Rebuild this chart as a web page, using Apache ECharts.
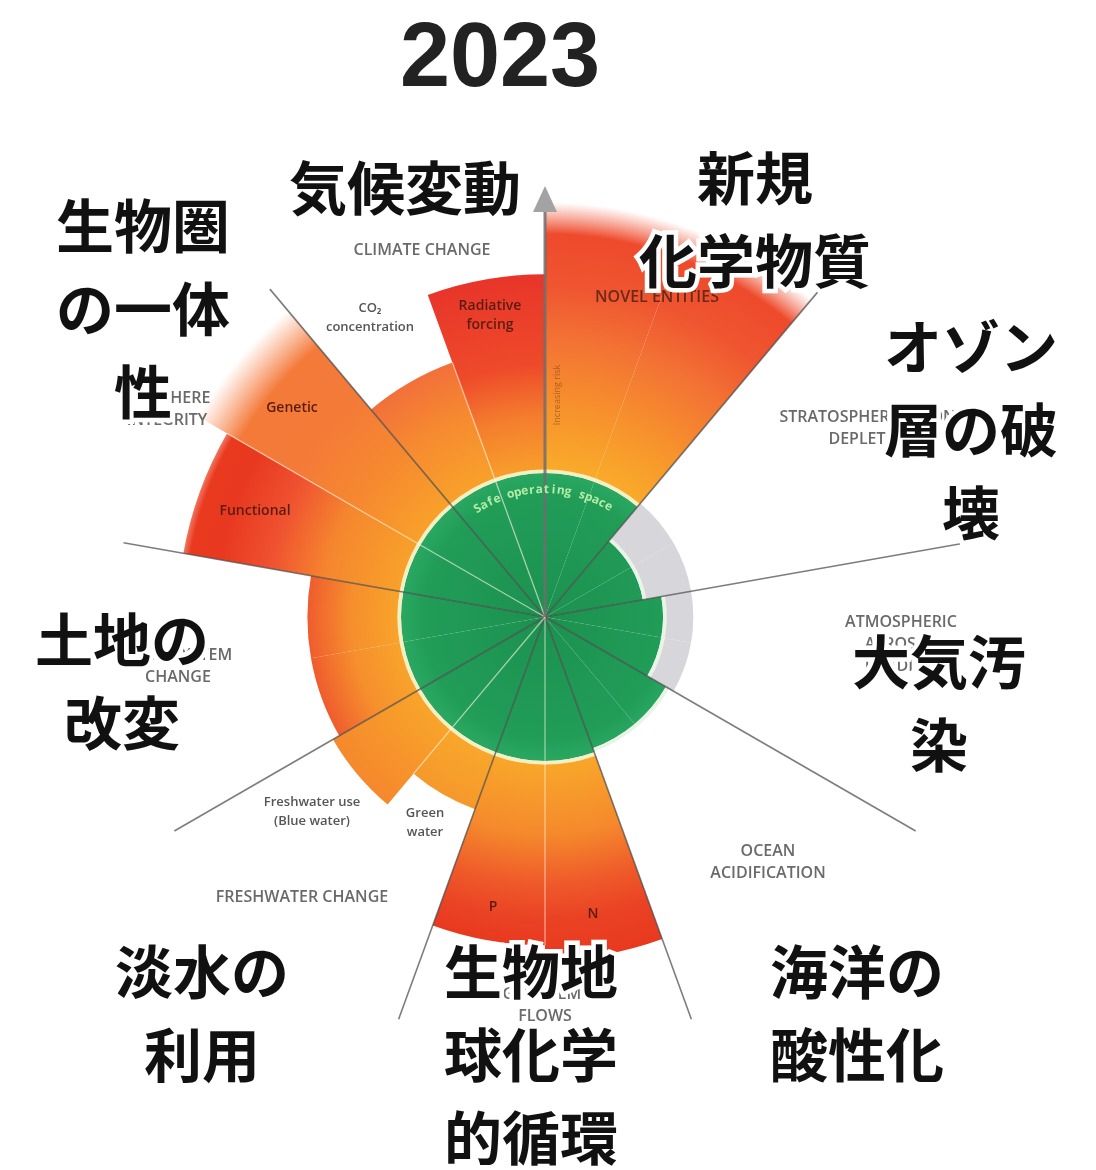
<!DOCTYPE html>
<html><head><meta charset="utf-8">
<script src="https://cdn.jsdelivr.net/npm/echarts@6/dist/echarts.min.js"></script>
<style>html,body{margin:0;padding:0;background:#fff}#c{width:1096px;height:1170px}</style>
</head><body><div id="c"></div>
<script>
// ---- data -------------------------------------------------------------
// 18 slots of 20 degrees, clockwise from 12 o'clock
const slotNames = ['Novel entities a','Novel entities b','Stratospheric ozone a','Stratospheric ozone b',
  'Atmospheric aerosols a','Atmospheric aerosols b','Ocean acidification a','Ocean acidification b',
  'Nitrogen (N)','Phosphorus (P)','Green water','Blue water','Land-system change a','Land-system change b',
  'Functional integrity','Genetic diversity','CO2 concentration','Radiative forcing'];
// control-variable status in units of the planetary boundary (1 = edge of the safe operating space)
const statusValues = [2.88,2.88,0.69,0.69,0.82,0.82,0.97,0.97,2.38,2.28,1.42,1.70,1.65,1.65,2.55,2.78,1.88,2.38];
// grey zone (boundaries not transgressed) outer extent
const greyZone = [0,0,1.03,1.03,1.03,1.03,0,0,0,0,0,0,0,0,0,0,0,0];
const mainDividerAngles = [40,80,120,160,200,240,280,320];
const subDividerAngles = [180,220,300,340];
const safeText = 'Safe operating space';

// ---- style ------------------------------------------------------------
const CX = 545, CY = 617, PX_PER_UNIT = 144, OUTER_PX = 430;
const RMAX = OUTER_PX / PX_PER_UNIT;
const gradStops = {
  novel: [[1.0,'#f9ac2a'],[1.45,'#f7922c'],[1.9,'#f37434'],[2.3,'#ef5530'],[2.66,'#ee4a2c'],[2.88,'rgba(240,90,60,0)']],
  N: [[1.0,'#f8a82a'],[1.5,'#f58a2c'],[1.85,'#ef5a2a'],[2.1,'#ea4224'],[2.38,'#e8391f']],
  P: [[1.0,'#f8a82a'],[1.5,'#f58a2c'],[1.85,'#ef5a2a'],[2.1,'#ea4224'],[2.28,'#e8391f']],
  gw: [[1.0,'#f8a82a'],[1.42,'#f6982c']],
  bw: [[1.0,'#f8a52a'],[1.7,'#f5882c']],
  land: [[1.0,'#f8a52a'],[1.35,'#f68e2d'],[1.65,'#ef5c2e']],
  func: [[1.0,'#f8a22a'],[1.55,'#f5862e'],[1.95,'#ef5030'],[2.3,'#e8381f'],[2.5,'#e9391f'],[2.55,'rgba(236,70,40,0.75)']],
  gen: [[1.0,'#f8a22a'],[1.5,'#f6892f'],[2.0,'#f47a38'],[2.45,'#f47a3a'],[2.78,'rgba(246,130,70,0)']],
  co2: [[1.0,'#f8a22a'],[1.5,'#f68a30'],[1.88,'#f2703a']],
  rf: [[1.0,'#f8a02a'],[1.4,'#f47c2e'],[1.75,'#ee4a2a'],[2.38,'#e8352a']]
};
const slotStyle = ['novel','novel',null,null,null,null,null,null,'N','P','gw','bw','land','land','func','gen','co2','rf'];
const RIM = 0.025;

const greenData = statusValues.map(v => Math.min(v, 1));
const rimData = statusValues.map((v,i) => ({value: RIM, itemStyle:{color: (greyZone[i] || v < 1) ? '#e8f4e6' : '#f5f0c2'}}));
const greyData = statusValues.map((v,i) => greyZone[i] ? greyZone[i] - Math.min(v,1) - RIM : 0);
const overData = statusValues.map((v,i) => {
  if (v <= 1) return 0;
  const stops = gradStops[slotStyle[i]];
  return {
    value: v - Math.min(v,1) - RIM,
    itemStyle: {color: {type:'radial', global:true, x:CX, y:CY, r:v*PX_PER_UNIT,
      colorStops: stops.map(s => ({offset: Math.min(1, s[0]/v), color: s[1]}))}}
  };
});
function dividerLen(a){
  const k = a/20, n = slotNames.length;
  return Math.min(statusValues[(k-1+n)%n], statusValues[k%n]);
}
const lineData = mainDividerAngles.map(a => [428/PX_PER_UNIT, a, 0])
  .concat(subDividerAngles.map(a => [dividerLen(a), a, 1]));

const hidden = {axisLine:{show:false},axisTick:{show:false},axisLabel:{show:false},splitLine:{show:false}};
const chars = safeText.split('');
const charStep = 3.25;
const safeData = chars.map((c,i) => [0.885, (i - (chars.length-1)/2) * charStep - 1]);

// ---- labels -----------------------------------------------------------
const JP = 'bold 58px "Noto Sans CJK JP"';
const jpLabels = [
  ['気候変動',405,188],['新規\n化学物質',755,219],['オゾン\n層の破\n壊',971,430],
  ['大気汚\n染',939,703],['海洋の\n酸性化',857,1013],['生物地\n球化学\n的循環',531,1055],
  ['淡水の\n利用',202,1013],['土地の\n改変',122,681],['生物圏\nの一体\n性',143,309]
];
const enLabels = [
  ['CLIMATE CHANGE',422,250,'cap'],['CO₂\nconcentration',370,318,'small'],
  ['Radiative\nforcing',490,316,'dark'],['NOVEL ENTITIES',657,297,'capdark'],
  ['STRATOSPHERIC OZONE\nDEPLETION',872,428,'cap'],['ATMOSPHERIC\nAEROSOL\nLOADING',901,644,'cap'],
  ['OCEAN\nACIDIFICATION',768,862,'cap'],['BIOGEOCHEMICAL\nFLOWS',545,1005,'cap'],
  ['Freshwater use\n(Blue water)',312,812,'small'],['Green\nwater',425,823,'small'],
  ['FRESHWATER CHANGE',302,897,'cap'],['LAND-SYSTEM\nCHANGE',178,666,'cap'],
  ['BIOSPHERE\nINTEGRITY',167,409,'cap'],['Genetic',292,408,'dark'],['Functional',255,511,'dark'],
  ['P',493,907,'dark'],['N',593,914,'dark']
];
const enStyle = {
  cap: {font:'600 16px "Open Sans"', fill:'#6a6a6a', lineHeight:22},
  capdark: {font:'600 16px "Open Sans"', fill:'#6b2a18', lineHeight:22},
  small: {font:'600 13px "Open Sans"', fill:'#555', lineHeight:19},
  dark: {font:'600 14px "Open Sans"', fill:'#5a1c10', lineHeight:19}
};
const graphics = [];
graphics.push({type:'text', x:500, y:61, z:100, style:{text:'2023', font:'bold 90px "Liberation Sans"', fill:'#222', align:'center', verticalAlign:'middle'}});
enLabels.forEach(l => graphics.push({type:'text', x:l[1], y:l[2], z:90,
  style:Object.assign({text:l[0], align:'center', verticalAlign:'middle'}, enStyle[l[3]])}));
graphics.push({type:'text', x:557, y:395, rotation:Math.PI/2, z:90,
  style:{text:'Increasing risk', font:'9px "Open Sans"', fill:'rgba(120,60,20,0.55)', align:'center', verticalAlign:'middle'}});
jpLabels.forEach(l => graphics.push({type:'text', x:l[1], y:l[2], z:100,
  style:{text:l[0], font:JP, fill:'#111', stroke:'#fff', lineWidth:9, lineHeight:83, align:'center', verticalAlign:'middle',
    shadowColor:'#ffffff', shadowBlur:22}}));

// ---- chart ------------------------------------------------------------
const chart = echarts.init(document.getElementById('c'));
chart.setOption({
  animation:false,
  backgroundColor:'#fff',
  polar:[{center:[CX,CY], radius:OUTER_PX},{center:[CX,CY], radius:OUTER_PX}],
  angleAxis:[
    Object.assign({type:'category', data:slotNames, startAngle:90, clockwise:true, polarIndex:0}, hidden),
    Object.assign({type:'value', min:0, max:360, startAngle:90, clockwise:true, polarIndex:1}, hidden)
  ],
  radiusAxis:[
    Object.assign({type:'value', min:0, max:RMAX, polarIndex:0}, hidden),
    Object.assign({type:'value', min:0, max:RMAX, polarIndex:1}, hidden)
  ],
  series:[
    {type:'bar', coordinateSystem:'polar', polarIndex:0, stack:'s', barCategoryGap:'0%', data:greenData,
      itemStyle:{color:{type:'radial', global:true, x:CX, y:CY, r:PX_PER_UNIT, colorStops:[{offset:0,color:'#1c914f'},{offset:0.85,color:'#219d58'},{offset:1,color:'#2aa862'}]}}, silent:true},
    {type:'bar', coordinateSystem:'polar', polarIndex:0, stack:'s', barCategoryGap:'0%', data:rimData, silent:true},
    {type:'bar', coordinateSystem:'polar', polarIndex:0, stack:'s', barCategoryGap:'0%', data:greyData,
      itemStyle:{color:'#d7d7db'}, silent:true},
    {type:'bar', coordinateSystem:'polar', polarIndex:0, stack:'s', barCategoryGap:'0%', data:overData, silent:true},
    {type:'custom', coordinateSystem:'polar', polarIndex:1, data:lineData, encode:{radius:0, angle:1}, z:5, silent:true,
      renderItem:function(params, api){
        const r = api.value(0), a = api.value(1), kind = api.value(2);
        const p0 = api.coord([0, a]), p1 = api.coord([r, a]);
        return {type:'line', shape:{x1:p0[0],y1:p0[1],x2:p1[0],y2:p1[1]},
          style: kind === 0 ? {stroke:'rgba(75,75,75,0.72)', lineWidth:1.6} : {stroke:'rgba(255,246,228,0.5)', lineWidth:1.4}};
      }},
    {type:'custom', coordinateSystem:'polar', polarIndex:1, data:[[431/PX_PER_UNIT, 0]], encode:{radius:0, angle:1}, z:6, silent:true,
      renderItem:function(params, api){
        const r = api.value(0), a = api.value(1), head = 0.18;
        const c = api.coord([0, a]), b = api.coord([r - head + 0.02, a]);
        const tip = api.coord([r, a]), l = api.coord([r - head, a - 1.7]), rr = api.coord([r - head, a + 1.7]);
        return {type:'group', children:[
          {type:'line', shape:{x1:c[0],y1:c[1],x2:b[0],y2:b[1]}, style:{stroke:'rgba(110,110,110,0.85)', lineWidth:3}},
          {type:'polygon', shape:{points:[tip,l,rr]}, style:{fill:'#a3a3a3'}}
        ]};
      }},
    {type:'custom', coordinateSystem:'polar', polarIndex:1, data:safeData, encode:{radius:0, angle:1}, z:7, silent:true,
      renderItem:function(params, api){
        const r = api.value(0), a = api.value(1);
        const p = api.coord([r, a]);
        return {type:'text', x:p[0], y:p[1], rotation:-a*Math.PI/180,
          style:{text:chars[params.dataIndex], font:'bold 12px "Open Sans"', fill:'#b3eca6', align:'center', verticalAlign:'middle'}};
      }}
  ],
  graphic: graphics
});
</script></body></html>
